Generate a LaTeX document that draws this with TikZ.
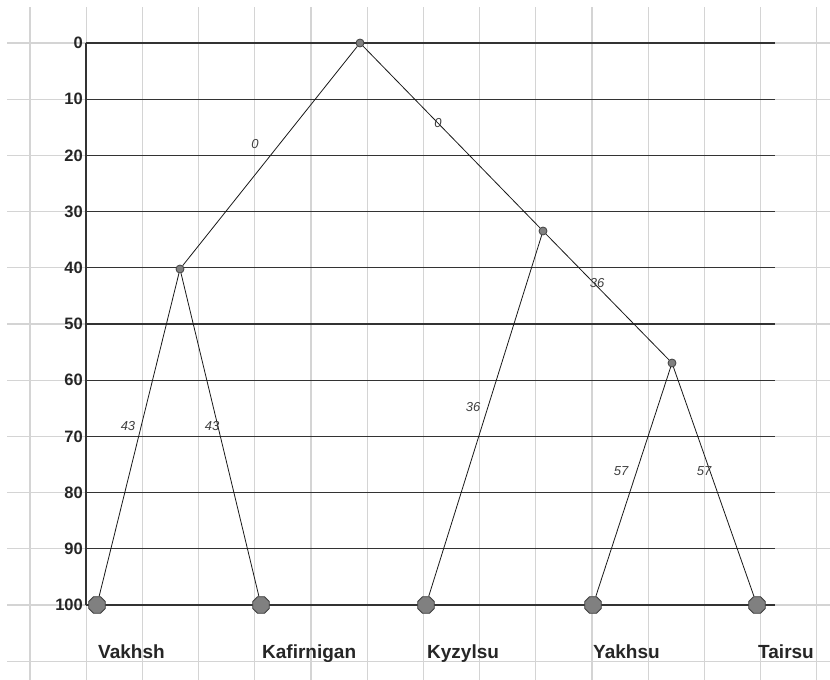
\documentclass[tikz,border=0pt]{standalone}
\usepackage{fontspec}
\setmainfont{Liberation Sans}
\usetikzlibrary{shapes.geometric}
\begin{document}
\begin{tikzpicture}[x=1pt,y=-1pt,
  gridline/.style={draw=black!17, line width=1.1pt},
  levelline/.style={draw=black!80, line width=1.3pt},
  branch/.style={draw=black!90, line width=0.8pt},
  leafnode/.style={regular polygon, regular polygon sides=8, minimum size=18pt, inner sep=0pt, fill=black!50, draw=black!75, line width=0.8pt},
  innode/.style={circle, minimum size=8pt, inner sep=0pt, fill=black!50, draw=black!75, line width=0.8pt},
  ticklabel/.style={font=\bfseries\fontsize{16.5}{16.5}\selectfont, anchor=east, inner sep=0pt, text=black!85},
  taxon/.style={font=\bfseries\fontsize{19}{19}\selectfont, anchor=base west, inner sep=0pt, text=black!85},
  dist/.style={font=\itshape\fontsize{13}{13}\selectfont, inner sep=0pt, text=black!75}]
\useasboundingbox (0,0) rectangle (830,680);
\fill[white] (0,0) rectangle (830,680);
% background grid
\foreach \i in {0,...,14} \draw[gridline] ({30+56.2*\i},7) -- ({30+56.2*\i},680);
\foreach \i in {0,...,11} \draw[gridline] (7,{43+56.2*\i}) -- (830,{43+56.2*\i});
% level lines and axis
\foreach \v in {0,10,...,100} {
  \draw[levelline] (86,{43+5.62*\v}) -- (775,{43+5.62*\v});
  \node[ticklabel] (t\v) at (83,{43+5.62*\v}) {\v};
}
\draw[levelline] (86,43) -- (86,605);
% tree nodes
\node[innode] (r) at (360,43) {};
\node[innode] (a) at (180,269) {};
\node[innode] (b) at (543,231) {};
\node[innode] (c) at (672,363) {};
\node[leafnode] (l1) at (97,605) {};
\node[leafnode] (l2) at (261,605) {};
\node[leafnode] (l3) at (426,605) {};
\node[leafnode] (l4) at (593,605) {};
\node[leafnode] (l5) at (757,605) {};
% branches
\draw[branch] (r) -- (a);
\draw[branch] (r) -- (b);
\draw[branch] (a) -- (l1);
\draw[branch] (a) -- (l2);
\draw[branch] (b) -- (l3);
\draw[branch] (b) -- (c);
\draw[branch] (c) -- (l4);
\draw[branch] (c) -- (l5);
% branch labels
\node[dist] (d1) at (255,144) {0};
\node[dist] (d2) at (438,123) {0};
\node[dist] (d3) at (597,283) {36};
\node[dist] (d4) at (128,426) {43};
\node[dist] (d5) at (212,426) {43};
\node[dist] (d6) at (473,407) {36};
\node[dist] (d7) at (621,471) {57};
\node[dist] (d8) at (704,471) {57};
% taxa
\node[taxon] (n1) at (98,658) {Vakhsh};
\node[taxon] (n2) at (262,658) {Kafirnigan};
\node[taxon] (n3) at (427,658) {Kyzylsu};
\node[taxon] (n4) at (593,658) {Yakhsu};
\node[taxon] (n5) at (758,658) {Tairsu};
\end{tikzpicture}
\end{document}
